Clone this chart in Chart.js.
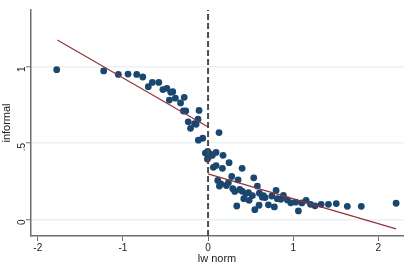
<!DOCTYPE html>
<html>
<head>
<meta charset="utf-8">
<script src="https://cdn.jsdelivr.net/npm/chart.js@4"></script>
<style>
    html, body { margin: 0; padding: 0; background: #fff; }
    #wrap { width: 410px; height: 266px; }
</style>
</head>
<body>
<div id="wrap"><canvas id="chartContainer"></canvas></div>
<script>
// binned scatter: lw norm vs informal
const lwNorm = [-1.778, -1.226, -1.054, -0.940, -0.838, -0.767, -0.702, -0.655, -0.579, -0.531,
    -0.484, -0.438, -0.415, -0.455, -0.384, -0.323, -0.280, -0.290, -0.262, -0.106,
    -0.233, -0.159, -0.141, -0.118, -0.206, -0.114, -0.062, -0.032, -0.004, 0.024,
    0.051, 0.004, -0.008, 0.129, 0.094, 0.176, 0.062, 0.094, 0.168, 0.247,
    0.400, 0.114, 0.133, 0.149, 0.215, 0.239, 0.278, 0.290, 0.314, 0.353,
    0.372, 0.400, 0.420, 0.443, 0.474, 0.482, 0.521, 0.537, 0.579, 0.603,
    0.650, 0.670, 0.337, 0.549, 0.599, 0.709, 0.638, 0.749, 0.799, 0.779,
    0.814, 0.854, 0.885, 0.932, 0.972, 1.028, 1.061, 1.101, 1.152, 1.204,
    1.257, 1.328, 1.414, 1.506, 1.636, 1.800, 2.209];
const informal = [0.979, 0.971, 0.948, 0.950, 0.948, 0.931, 0.868, 0.896, 0.896, 0.849,
    0.857, 0.831, 0.835, 0.780, 0.793, 0.762, 0.798, 0.709, 0.709, 0.713,
    0.638, 0.626, 0.622, 0.655, 0.596, 0.518, 0.531, 0.434, 0.445, 0.428,
    0.419, 0.406, 0.395, 0.568, 0.438, 0.419, 0.341, 0.352, 0.334, 0.371,
    0.334, 0.255, 0.218, 0.233, 0.222, 0.240, 0.281, 0.201, 0.183, 0.259,
    0.196, 0.185, 0.136, 0.169, 0.175, 0.125, 0.156, 0.272, 0.218, 0.172,
    0.156, 0.143, 0.088, 0.064, 0.093, 0.096, 0.146, 0.153, 0.190, 0.082,
    0.136, 0.132, 0.157, 0.128, 0.109, 0.113, 0.056, 0.108, 0.125, 0.099,
    0.089, 0.099, 0.099, 0.104, 0.086, 0.086, 0.106];

// linear fits on each side of the cutoff
const fitLeftX = [-1.771, 0];
const fitLeftY = [1.173, 0.605];
const fitRightX = [0, 2.209];
const fitRightY = [0.298, -0.061];

const xTicks = [-2, -1, 0, 1, 2];
const yTicks = [0, 0.5, 1];
const yTickLabels = ['0', '.5', '1'];

const xMin = -2.08, xMax = 2.29;
const yMin = -0.108, yMax = 1.369;

function toPoints(xs, ys) {
    return xs.map((x, i) => ({ x: x, y: ys[i] }));
}

function initChart() {
    let ctx = document.getElementById('chartContainer');
    let axisGray = '#6e6e6e';
    new Chart(ctx, {
        type: 'scatter',
        data: {
            datasets: [
                {
                    label: 'bins',
                    data: toPoints(lwNorm, informal),
                    pointRadius: 3.4,
                    pointBackgroundColor: '#1a476f',
                    pointBorderWidth: 0,
                    order: 3
                },
                {
                    label: 'fit left',
                    data: toPoints(fitLeftX, fitLeftY),
                    showLine: true,
                    pointRadius: 0,
                    borderWidth: 1.2,
                    borderColor: '#90353b',
                    order: 2
                },
                {
                    label: 'fit right',
                    data: toPoints(fitRightX, fitRightY),
                    showLine: true,
                    pointRadius: 0,
                    borderWidth: 1.2,
                    borderColor: '#90353b',
                    order: 2
                },
                {
                    label: 'cutoff',
                    data: [{ x: 0, y: yMin }, { x: 0, y: yMax }],
                    showLine: true,
                    pointRadius: 0,
                    borderWidth: 2,
                    borderColor: '#4d4d4d',
                    borderDash: [6, 3],
                    order: 1
                }
            ]
        },
        options: {
            animation: false,
            responsive: true,
            maintainAspectRatio: false,
            layout: { padding: { top: 8, right: 7, left: 0, bottom: 0 } },
            plugins: {
                legend: { display: false },
                tooltip: { enabled: false }
            },
            scales: {
                x: {
                    type: 'linear',
                    min: xMin,
                    max: xMax,
                    afterBuildTicks: function (scale) {
                        scale.ticks = xTicks.map(v => ({ value: v }));
                    },
                    afterFit: function (scale) { scale.height = 30; },
                    border: { display: true, color: axisGray, width: 1.5 },
                    grid: { drawOnChartArea: false, tickColor: axisGray, tickLength: 5, tickWidth: 1 },
                    ticks: {
                        color: '#222',
                        font: { family: 'Liberation Sans', size: 10 },
                        padding: 1,
                        maxRotation: 0,
                        callback: v => String(v)
                    },
                    title: {
                        display: true,
                        text: 'lw norm',
                        color: '#222',
                        font: { family: 'Liberation Sans', size: 11 },
                        padding: { top: 0, bottom: 0 }
                    }
                },
                y: {
                    type: 'linear',
                    min: yMin,
                    max: yMax,
                    afterBuildTicks: function (scale) {
                        scale.ticks = yTicks.map(v => ({ value: v }));
                    },
                    afterFit: function (scale) { scale.width = 31; },
                    border: { display: true, color: axisGray, width: 1.5 },
                    grid: { color: '#eaf2f3', lineWidth: 1.5, tickColor: axisGray, tickLength: 5, tickWidth: 1 },
                    ticks: {
                        color: '#222',
                        font: { family: 'Liberation Sans', size: 10 },
                        padding: 4,
                        minRotation: 90,
                        maxRotation: 90,
                        callback: function (v) {
                            let i = yTicks.indexOf(v);
                            return i >= 0 ? yTickLabels[i] : '';
                        }
                    },
                    title: {
                        display: true,
                        text: 'informal',
                        color: '#222',
                        font: { family: 'Liberation Sans', size: 11 },
                        padding: { top: 0, bottom: 0 }
                    }
                }
            }
        }
    });
}

window.addEventListener('load', initChart);
</script>
</body>
</html>
